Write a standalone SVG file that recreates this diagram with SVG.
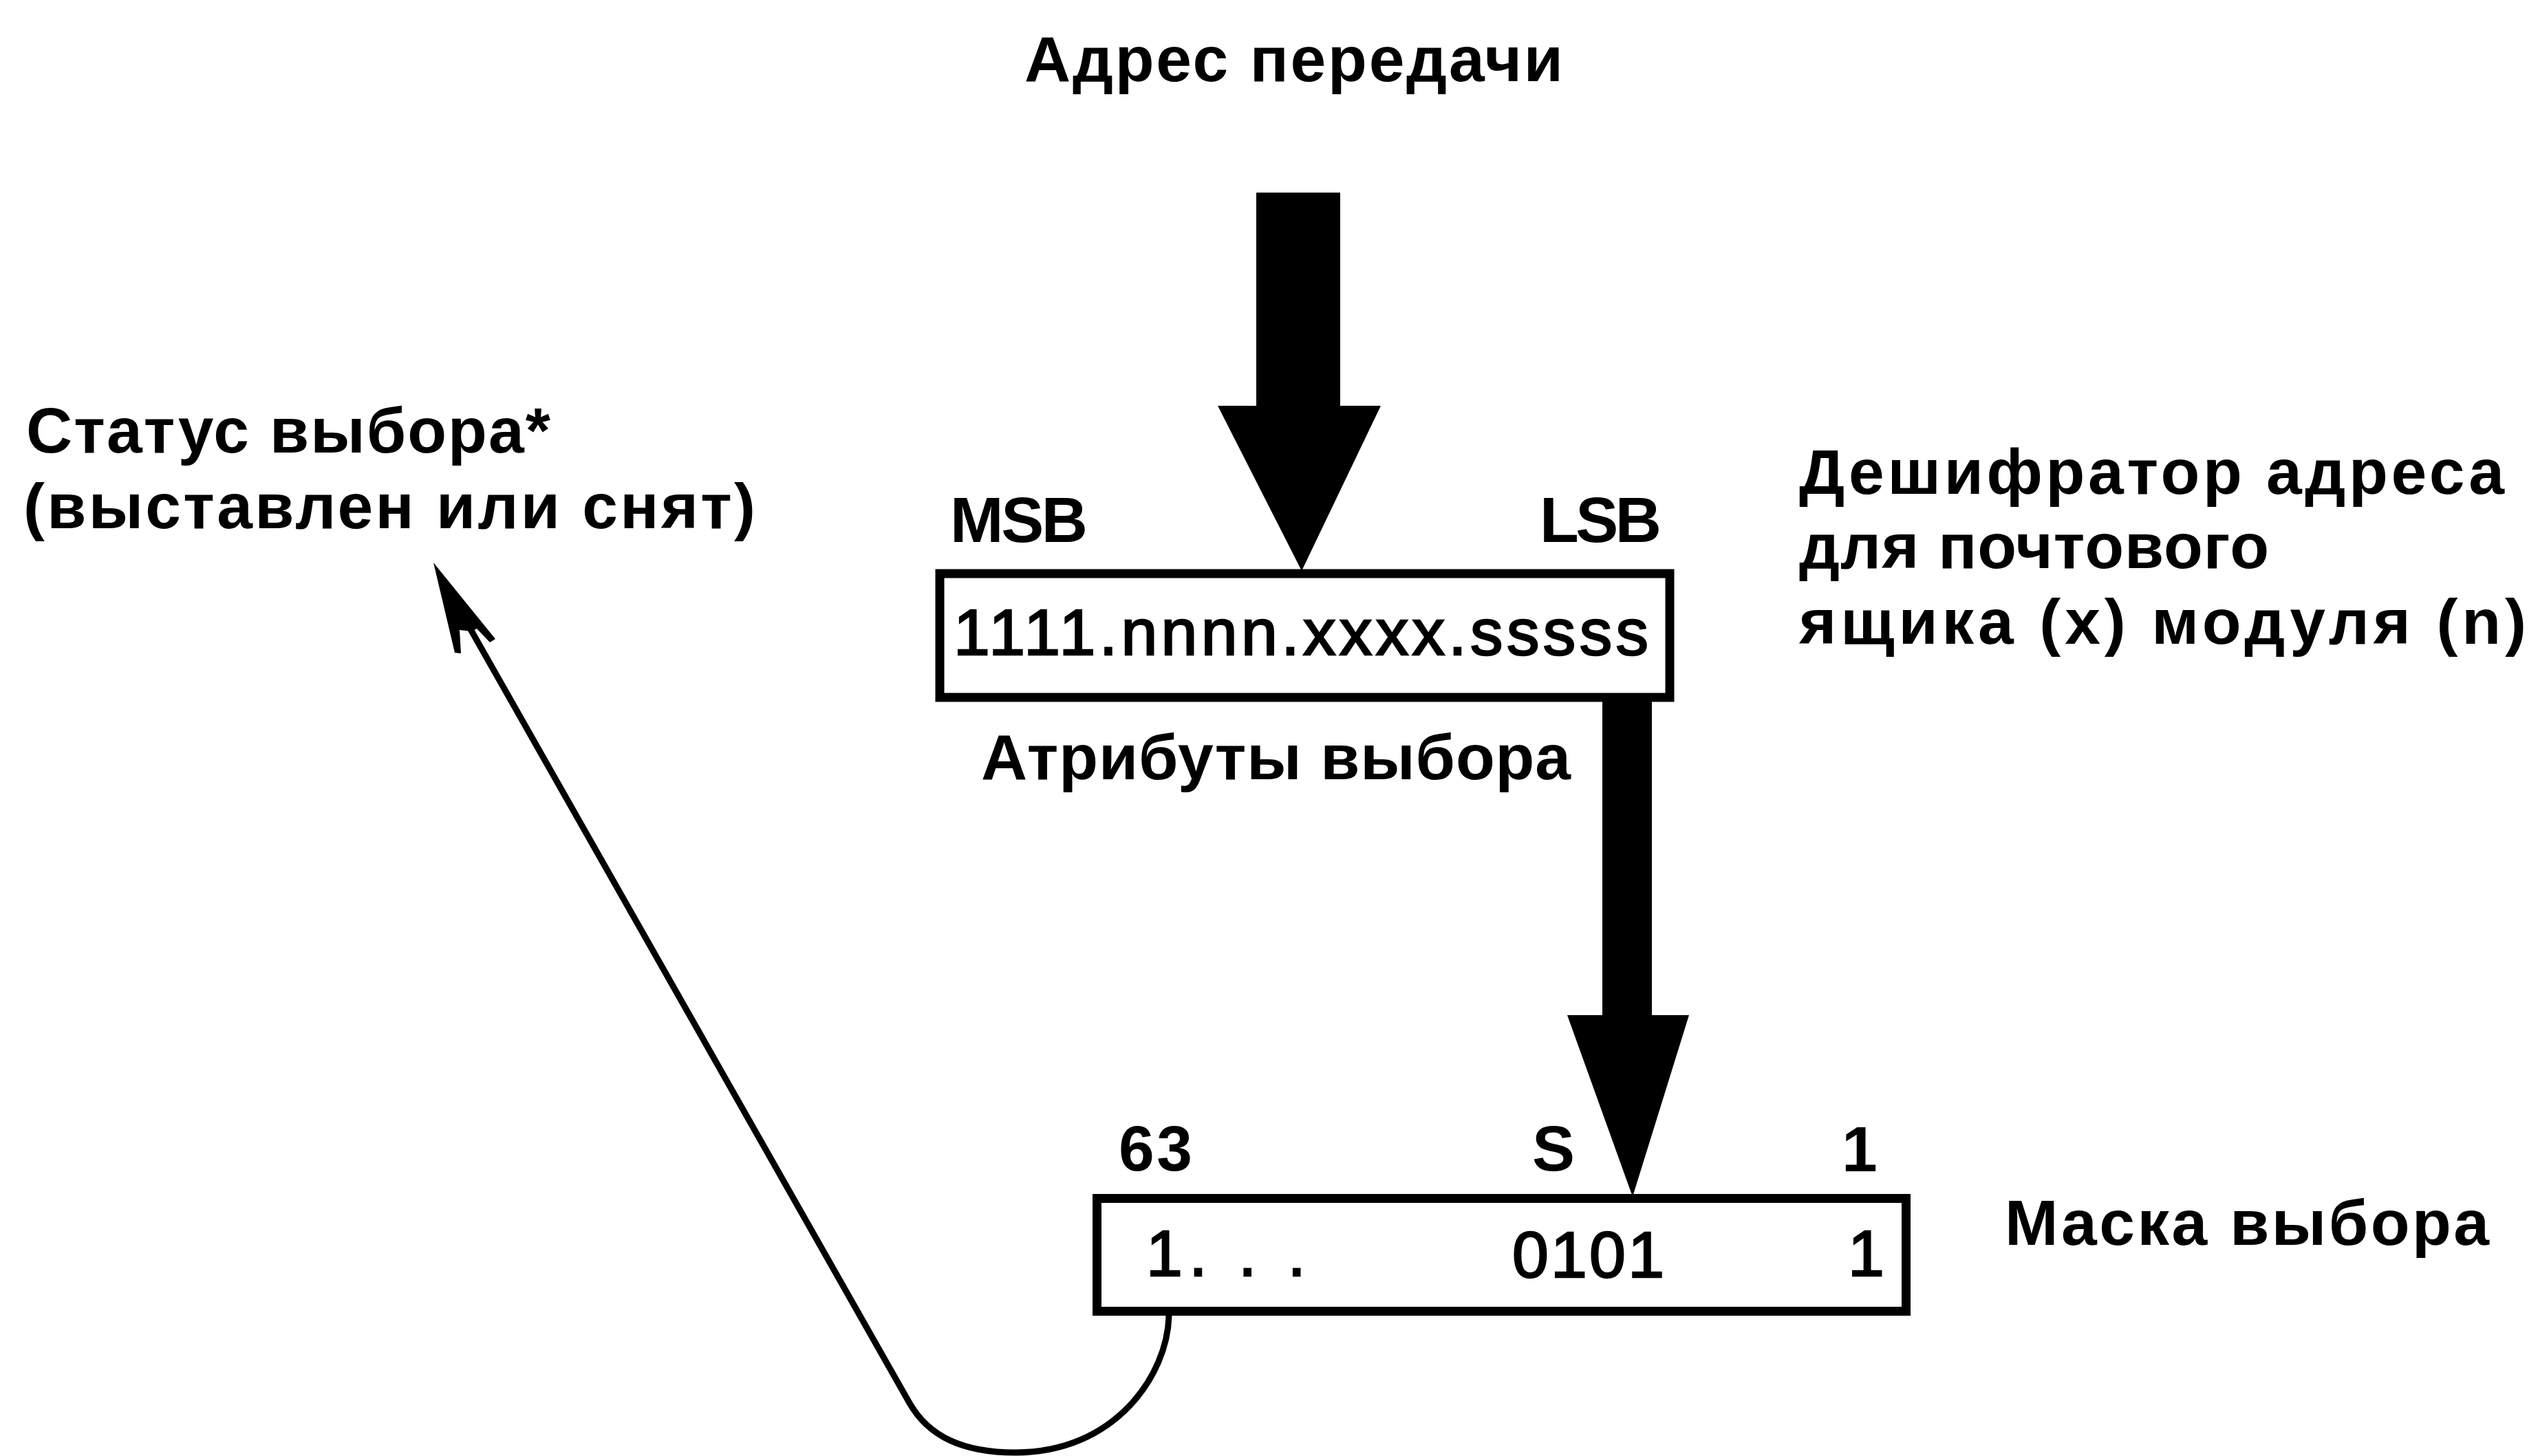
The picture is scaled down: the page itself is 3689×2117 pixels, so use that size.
<svg xmlns="http://www.w3.org/2000/svg" width="3689" height="2117" viewBox="0 0 3689 2117">
<style>
.lbl{font-family:"Liberation Sans",Arial,sans-serif;font-weight:bold;font-size:93px;fill:#000}
.val{font-family:"Liberation Sans",Arial,sans-serif;font-weight:normal;font-size:95px;fill:#000;stroke:#000;stroke-width:2.5}
.box{fill:#fff;stroke:#000;stroke-width:13}
.thick{fill:#000;stroke:none}
.thin{fill:none;stroke:#000;stroke-width:9;stroke-linecap:round;stroke-linejoin:round}
</style>
<rect x="0" y="0" width="3689" height="2117" fill="#fff"/>

<g id="title-label">
<text class="lbl" x="1489" y="118" textLength="783" lengthAdjust="spacing">Адрес передачи</text>
</g>

<g id="status-label">
<text class="lbl" x="38" y="658" textLength="762" lengthAdjust="spacing">Статус выбора*</text>
<text class="lbl" x="34" y="768" textLength="1064" lengthAdjust="spacing">(выставлен или снят)</text>
</g>

<g id="decoder-label">
<text class="lbl" x="2615" y="718" textLength="1025" lengthAdjust="spacing">Дешифратор адреса</text>
<text class="lbl" x="2615" y="826" textLength="683" lengthAdjust="spacing">для почтового</text>
<text class="lbl" x="2615" y="936" textLength="1057" lengthAdjust="spacing">ящика (x) модуля (n)</text>
</g>

<g id="select-attributes">
<text class="lbl" x="1381" y="788" font-size="88" textLength="200" lengthAdjust="spacing">MSB</text>
<text class="lbl" x="2238" y="788" font-size="88" textLength="177" lengthAdjust="spacing">LSB</text>
<rect class="box" x="1366" y="834" width="1061" height="180"/>
<text class="val" x="1386" y="952" font-size="92" textLength="1010" lengthAdjust="spacing">1111.nnnn.xxxx.sssss</text>
<text class="lbl" x="1426" y="1133" textLength="857" lengthAdjust="spacing">Атрибуты выбора</text>
</g>

<g id="select-mask">
<text class="lbl" x="1626" y="1702" textLength="107" lengthAdjust="spacing">63</text>
<text class="lbl" x="2227" y="1702" textLength="62" lengthAdjust="spacing">S</text>
<text class="lbl" x="2677" y="1703">1</text>
<rect class="box" x="1594.5" y="1742.5" width="1176" height="164"/>
<text class="val" x="1666" y="1855" textLength="232" lengthAdjust="spacing">1. . .</text>
<text class="val" x="2198" y="1857" font-size="98" textLength="221" lengthAdjust="spacing">0101</text>
<text class="val" x="2686" y="1855">1</text>
<text class="lbl" x="2914" y="1810" textLength="704" lengthAdjust="spacing">Маска выбора</text>
</g>

<g id="connectors">
<polygon class="thick" points="1826,280 1948,280 1948,590 2007,590 1892,830 1770,590 1826,590"/>
<polygon class="thick" points="2329,1014 2401,1014 2401,1476 2455,1476 2373,1740 2278,1476 2329,1476"/>
<path class="thin" d="M 1699,1913 C 1697,2000 1620,2112 1476,2112 C 1400,2112 1350,2089 1322,2040 L 680,908"/>
<polygon class="thick" points="630,818 720,929 712,934 693,914 686,918 668,916 670,950 661,949"/>
</g>
</svg>
